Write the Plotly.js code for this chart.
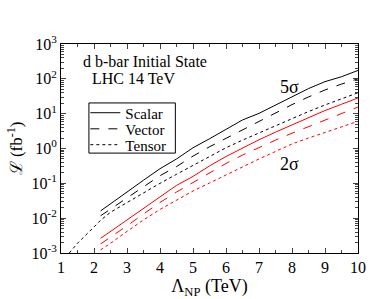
<!DOCTYPE html>
<html>
<head>
<meta charset="utf-8">
<script src="https://cdn.plot.ly/plotly-3.0.1.min.js"></script>
<style>html,body{margin:0;padding:0;background:#fff;}</style>
</head>
<body>
<div id="chart" style="width:387px;height:299px;"></div>
<script>
// Lambda_NP (TeV)
const lam = [2.2, 2.5, 3, 3.5, 4, 4.5, 5, 5.5, 6, 6.5, 7, 7.5, 8, 8.5, 9, 9.5, 10];
const lamTensor5 = [1.25, 1.5, 2, 2.2, 2.5, 3, 3.5, 4, 4.5, 5, 5.5, 6, 6.5, 7, 7.5, 8, 8.5, 9, 9.5, 10];

// Luminosity (fb^-1), 5 sigma
const scalar5 = [0.0162, 0.0263, 0.0562, 0.123, 0.263, 0.50, 1.05, 1.9, 3.55, 6.6, 10.2, 17.4, 30.9, 52.5, 83, 115, 174];
const vector5 = [0.0117, 0.0182, 0.0372, 0.0794, 0.166, 0.302, 0.603, 1.12, 1.95, 3.55, 6.03, 10.5, 18.2, 30.2, 47.9, 70.8, 100];
const tensor5 = [0.001, 0.0019, 0.0056, 0.0087, 0.0148, 0.0282, 0.0537, 0.1, 0.182, 0.331, 0.603, 1.05, 1.74, 2.82, 4.57, 7.41, 11.5, 17.8, 26.9, 39.8];

// Luminosity (fb^-1), 2 sigma
const scalar2 = [0.00263, 0.00417, 0.00891, 0.0191, 0.0417, 0.0871, 0.158, 0.316, 0.589, 1.05, 1.78, 2.95, 4.79, 7.76, 12.3, 18.6, 28.2];
const vector2 = [0.00182, 0.00282, 0.00603, 0.0132, 0.0282, 0.0562, 0.105, 0.2, 0.372, 0.646, 1.07, 1.74, 2.75, 4.27, 6.61, 10, 15.5];
const tensor2 = [0.00123, 0.0019, 0.00417, 0.00891, 0.0178, 0.0331, 0.0603, 0.102, 0.17, 0.295, 0.501, 0.832, 1.35, 2.0, 2.95, 4.17, 6.03];

const legendNames = ['Scalar', 'Vector', 'Tensor'];
const xTickVals = [1, 2, 3, 4, 5, 6, 7, 8, 9, 10];
const yTickVals = [0.001, 0.01, 0.1, 1, 10, 100, 1000];
const yTickText = ['10<sup>-3</sup>', '10<sup>-2</sup>', '10<sup>-1</sup>', '10<sup>0</sup>', '10<sup>1</sup>', '10<sup>2</sup>', '10<sup>3</sup>'];

const font = 'Liberation Serif, Times New Roman, serif';

function tr(x, y, name, color, dash, legendId) {
  const t = {x: x, y: y, type: 'scatter', mode: 'lines', name: name,
             line: {color: color, width: 1, dash: dash}};
  if (legendId) { t.legend = legendId; t.showlegend = true; } else { t.showlegend = false; }
  return t;
}

const data = [
  tr(lam, scalar5, legendNames[0], 'black', 'solid', 'legend'),
  tr(lam, vector5, legendNames[1], 'black', 'dash', 'legend2'),
  tr(lamTensor5, tensor5, legendNames[2], 'black', 'dot', 'legend3'),
  tr(lam, scalar2, legendNames[0], 'red', 'solid', null),
  tr(lam, vector2, legendNames[1], 'red', 'dash', null),
  tr(lam, tensor2, legendNames[2], 'red', 'dot', null)
];

function leg(y) {
  return {x: 0.082, y: y, xanchor: 'left', yanchor: 'middle',
          bgcolor: 'rgba(0,0,0,0)', borderwidth: 0, itemwidth: 30,
          font: {family: font, size: 15, color: 'black'}};
}

const layout = {
  width: 387, height: 299,
  margin: {l: 61, r: 29, t: 44, b: 46},
  paper_bgcolor: 'white', plot_bgcolor: 'white',
  font: {family: font, size: 14, color: 'black'},
  showlegend: true,
  legend: leg(0.670),
  legend2: leg(0.593),
  legend3: leg(0.517),
  shapes: [
    {type: 'rect', xref: 'paper', yref: 'paper', x0: 0.094, x1: 0.385, y0: 0.478, y1: 0.718,
     line: {color: 'black', width: 1}, fillcolor: 'white', layer: 'above'}
  ],
  xaxis: {range: [1, 10], tickvals: xTickVals, ticks: 'inside', ticklen: 5,
          showline: true, linecolor: 'black', linewidth: 1, mirror: 'allticks',
          showgrid: false, zeroline: false,
          minor: {ticks: 'inside', ticklen: 3, dtick: 0.5, showgrid: false},
          tickfont: {family: font, size: 16},
          title: {text: 'Λ<sub>NP</sub> (TeV)', font: {family: font, size: 18}, standoff: 2}},
  yaxis: {type: 'log', range: [-3, 3], tickvals: yTickVals, ticktext: yTickText,
          ticks: 'inside', ticklen: 5,
          showline: true, linecolor: 'black', linewidth: 1, mirror: 'allticks',
          showgrid: false, zeroline: false,
          minor: {ticks: 'inside', ticklen: 3, dtick: 'D1', showgrid: false},
          tickfont: {family: font, size: 16},
          title: {text: 'ℒ (fb<sup>-1</sup>)', font: {family: font, size: 17}, standoff: 4}},
  annotations: [
    {xref: 'paper', yref: 'paper', x: 0.066, y: 0.918, xanchor: 'left', yanchor: 'middle',
     text: 'd b-bar Initial State', showarrow: false, font: {family: font, size: 16}},
    {xref: 'paper', yref: 'paper', x: 0.098, y: 0.835, xanchor: 'left', yanchor: 'middle',
     text: 'LHC 14 TeV', showarrow: false, font: {family: font, size: 16}},
    {xref: 'paper', yref: 'paper', x: 0.771, y: 0.794, xanchor: 'center', yanchor: 'middle',
     text: '5σ', showarrow: false, font: {family: font, size: 18}},
    {xref: 'paper', yref: 'paper', x: 0.771, y: 0.426, xanchor: 'center', yanchor: 'middle',
     text: '2σ', showarrow: false, font: {family: font, size: 18}}
  ]
};

Plotly.newPlot('chart', data, layout, {displayModeBar: false, staticPlot: true});
</script>
</body>
</html>
